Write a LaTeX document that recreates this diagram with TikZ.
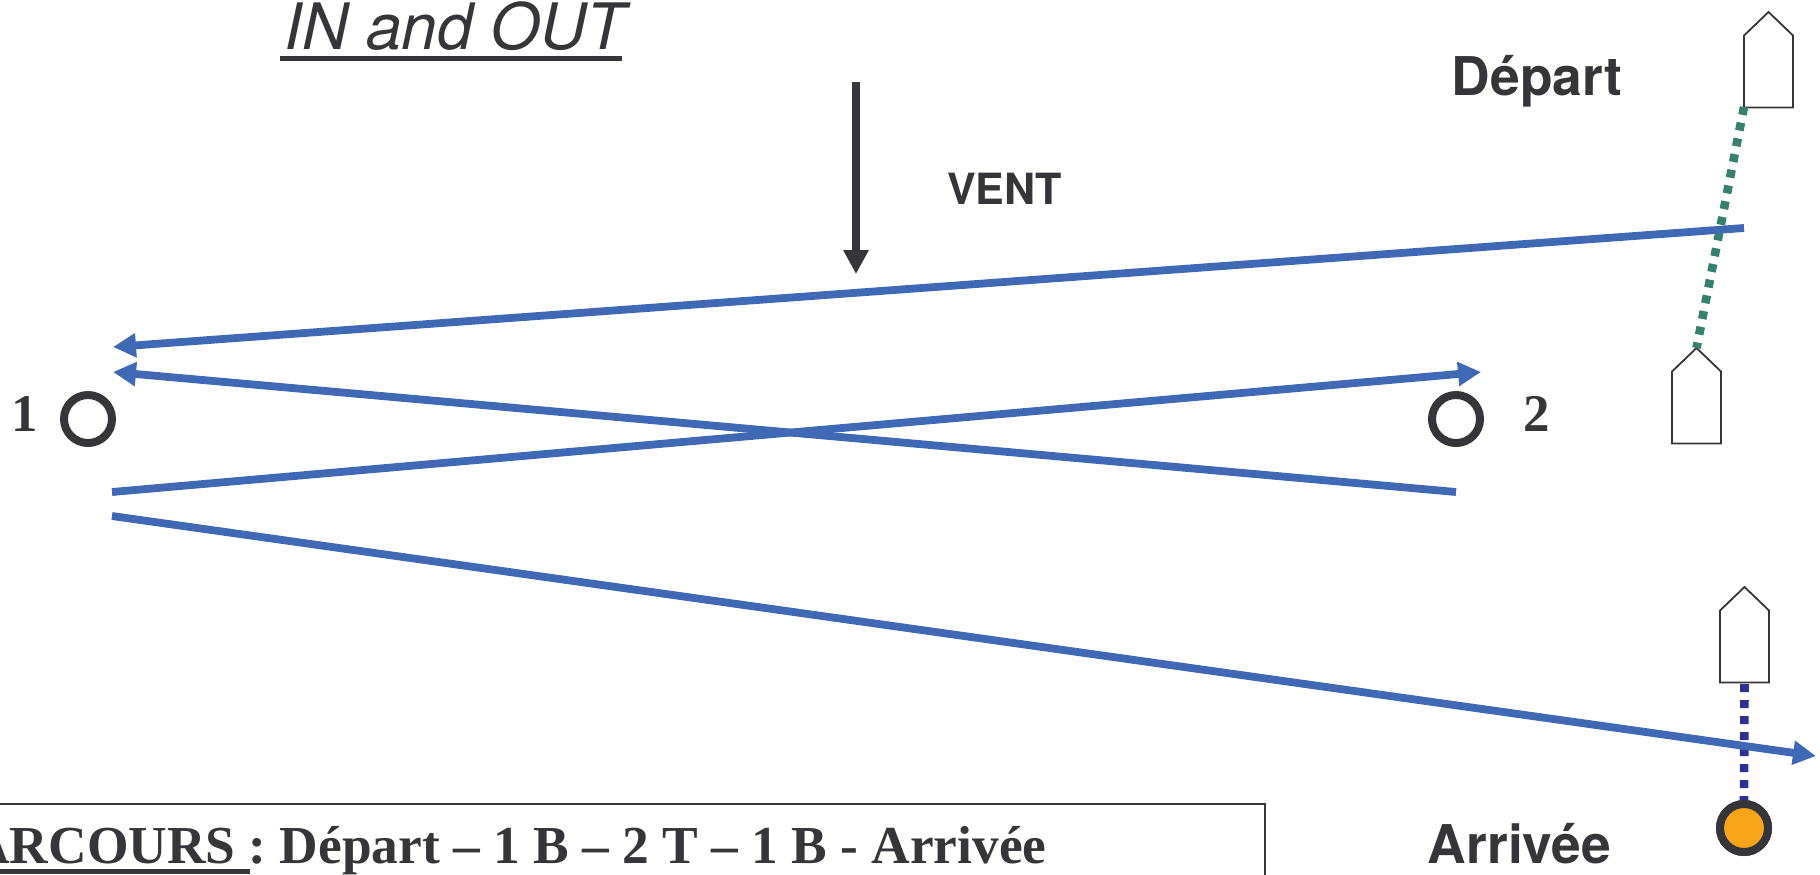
\documentclass[tikz,border=0pt]{standalone}
\usepackage{fontspec}
\setmainfont{TeX Gyre Heros}
\newfontfamily\serifbold{Liberation Serif}[BoldFont={Liberation Serif Bold}]
\usetikzlibrary{arrows.meta}
\definecolor{ink}{HTML}{36353A}
\definecolor{leg}{HTML}{3F69B5}
\definecolor{startline}{HTML}{35806F}
\definecolor{finishline}{HTML}{2E3192}
\definecolor{finishbuoy}{HTML}{F9A51A}
\tikzset{
  lbl/.style={inner sep=0pt,anchor=base,text=ink},
  sanslbl/.style={lbl,font=\fontsize{26.7}{30}\selectfont\bfseries},
  numlbl/.style={lbl,font=\fontsize{26.5}{30}\selectfont\serifbold\bfseries},
  legline/.style={draw=leg,line width=3.9pt},
  legarrow/.style={legline,-{Triangle[length=11.5pt,width=11.5pt]}},
  buoy/.style={circle,draw=ink,line width=4pt,minimum size=24pt,inner sep=0pt},
  boat/.style={draw=ink,line width=0.9pt,fill=white,line join=miter},
  dots/.style={line width=4.3pt,dash pattern=on 4pt off 4pt},
}
\begin{document}
\begin{tikzpicture}[x=0.5pt,y=-0.5pt]
\useasboundingbox (0,0) rectangle (1820,874);
% title and wind
\node[lbl,font=\fontsize{32}{36}\selectfont\itshape] (title) at (455,49) {IN and OUT};
\draw[ink,line width=2.5pt] (280,58.5) -- (622,58.5);
\coordinate (windtop) at (856,82);
\coordinate (windtip) at (856,274);
\draw[ink,line width=3.7pt,-{Triangle[length=12pt,width=12pt]}] (windtop) -- (windtip);
\node[lbl,font=\fontsize{21.5}{24}\selectfont\bfseries] (vent) at (1004.5,204) {VENT};
% boats
\foreach \n/\x/\y in {a/1768.5/12,b/1696.5/348,c/1744.5/587}{
  \draw[boat] (\x,\y) -- ++(24.5,23.5) -- ++(0,72) -- ++(-49,0) -- ++(0,-72) -- cycle;
  \coordinate (bow\n) at (\x,\y);
  \coordinate (stern\n) at (\x,\y+96);
}
\coordinate (startend) at (1744,107);
% start and finish lines
\draw[dots,startline] (startend) -- (bowb);
\node[buoy,fill=finishbuoy] (finish) at (1744,828) {};
\draw[dots,finishline] (1744.5,684) -- (finish.north);
\node[buoy,fill=finishbuoy] at (finish) {};
% marks
\node[buoy] (m1) at (88,419) {};
\node[buoy] (m2) at (1456,419) {};
\node[numlbl] (n1) at (24.5,431) {1};
\node[numlbl] (n2) at (1536.5,431) {2};
% legs
\coordinate (a0) at (1744,228);
\coordinate (a1) at (113,347);
\coordinate (b0) at (1456,492);
\coordinate (b1) at (113,372);
\coordinate (c0) at (112,492);
\coordinate (c1) at (1481,372);
\coordinate (d0) at (112,516);
\coordinate (d1) at (1816,756);
\draw[legarrow] (a0) -- (a1);
\draw[legarrow] (b0) -- (b1);
\draw[legarrow] (c0) -- (c1);
\draw[legarrow] (d0) -- (d1);
% labels on the right
\node[sanslbl] (depart) at (1537,95) {Départ};
\node[sanslbl] (arrivee) at (1519.5,863) {Arrivée};
% course box
\draw[ink,line width=1pt] (-20,804) -- (1265,804) -- (1265,900);
\node[lbl,anchor=base east,font=\fontsize{26.7}{30}\selectfont\serifbold\bfseries] (course) at (1047,863) {PARCOURS : Départ – 1 B – 2 T – 1 B - Arrivée};
\draw[ink,line width=2.5pt] (-20,871.5) -- (250,871.5);
\end{tikzpicture}
\end{document}
